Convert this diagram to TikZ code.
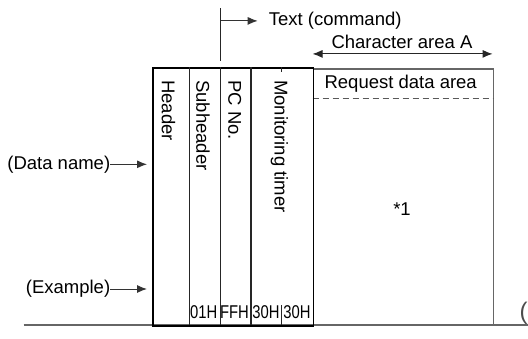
\documentclass[tikz,border=0pt]{standalone}
\usepackage{fontspec}
\setmainfont{Liberation Sans}
\newfontfamily\narrowfont[FakeStretch=0.8]{Liberation Sans}
\usetikzlibrary{arrows.meta}

\begin{document}
\begin{tikzpicture}[
    x=1pt, y=-1pt,
    font=\fontsize{18.5}{22}\selectfont,
    frame/.style={draw, line width=1.9pt, inner sep=0pt, anchor=north west},
    areabox/.style={draw=black!60, line width=1.2pt, inner sep=0pt, anchor=north west},
    divider/.style={black!85, line width=1.1pt},
    colname/.style={rotate=-90, anchor=west, inner sep=0pt},
    hexval/.style={font=\fontsize{18.5}{22}\narrowfont, inner sep=0pt},
    arrow/.style={-{Latex[length=10pt, width=8pt]}, black!80, line width=1pt},
    dimarrow/.style={{Latex[length=10pt, width=8pt]}-{Latex[length=10pt, width=8pt]}, black!85, line width=1pt},
    label/.style={inner sep=0pt}
]
\useasboundingbox (0,0) rectangle (528,338);

\draw[black!60, line width=1.2pt] (23.6,325) -- (528,325);
\node[areabox, minimum width=180pt, minimum height=256.7pt] (reqbox) at (312.5,68.3) {};
\draw[black!65, line width=1pt, dash pattern=on 6pt off 4pt] (312.5,98.3) -- (492.6,98.3);
\node[frame, minimum width=160.5pt, minimum height=258pt] (frame) at (152,67) {};

\foreach \x in {189.5,220.5,251}
    \draw[divider] (\x,67) -- (\x,325);
\draw[divider] (281.5,67) -- (281.5,72);
\draw[divider] (281.5,305) -- (281.5,325);

\node[colname] (header) at (168.4,80) {Header};
\node[colname] (subheader) at (203,80) {Subheader};
\node[colname] (pcno) at (234.7,80) {PC No.};
\node[colname] (timer) at (279.5,80) {Monitoring timer};

\node[hexval] (subhex) at (203.7,312.5) {01H};
\node[hexval] (pchex) at (234.5,312.5) {FFH};
\node[hexval] (timerhexa) at (266,312.5) {30H};
\node[hexval] (timerhexb) at (297,312.5) {30H};

\node[label] (reqname) at (400.7,83.5) {Request data area};
\node[label] (note) at (402,209) {*1};

\draw[divider] (220.5,8.4) -- (220.5,61.3);
\coordinate (cmdtap) at (220.5,20.9);
\node[label, anchor=west] (cmd) at (268.7,20.9) {Text (command)};
\draw[arrow, shorten >=11pt] (cmdtap) -- (cmd.west);

\node[label] (chara) at (402,42) {Character area A};
\coordinate (charL) at (312.5,53.9);
\coordinate (charR) at (492.6,53.9);
\draw[dimarrow] (charL) -- (charR);

\node[label, anchor=east] (dname) at (110.4,164.3) {(Data name)};
\draw[arrow, shorten >=5pt] (dname.east) -- (frame.west |- dname.east);
\node[label, anchor=east] (example) at (110.4,289) {(Example)};
\draw[arrow, shorten >=5pt] (example.east) -- (frame.west |- example.east);

\node[label, anchor=west, text=black!70, font=\fontsize{24}{28}\selectfont] (nextpar) at (519.5,313) {(};
\end{tikzpicture}
\end{document}
